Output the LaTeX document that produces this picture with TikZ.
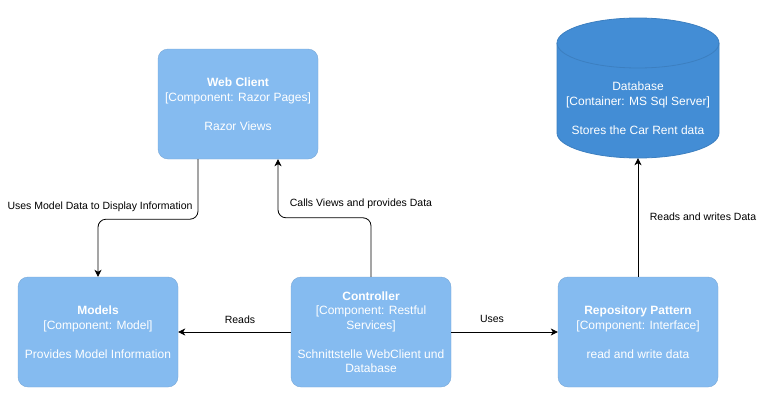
\documentclass[tikz,border=0pt]{standalone}
\usepackage{fontspec}
\setmainfont{Liberation Sans}
\usetikzlibrary{arrows.meta}
\definecolor{compfill}{HTML}{85BBF0}
\definecolor{compline}{HTML}{78A8D8}
\definecolor{dbfill}{HTML}{438DD5}
\definecolor{dbline}{HTML}{3C7FC0}

\begin{document}
\begin{tikzpicture}[x=1pt, y=-1pt,
	comp/.style={rectangle, rounded corners=10pt, fill=compfill, draw=compline, text=white, minimum width=160pt, minimum height=110pt, align=center, font=\fontsize{12}{14.5}\selectfont},
	dbtext/.style={rectangle, text=white, minimum width=162pt, minimum height=100pt, align=center, font=\fontsize{12}{14.5}\selectfont},
	link/.style={draw=black, line width=0.8pt, rounded corners=8pt, -{Stealth[length=7pt, width=7pt, inset=2pt]}},
	lbl/.style={fill=white, inner sep=1pt, font=\fontsize{10.5}{13}\selectfont}]
			\useasboundingbox (0,0) rectangle (770,402);
			
			% cylinder of the database
			\fill[dbfill, draw=dbline, line width=0.8pt] (557,43) -- (557,133) arc[start angle=180, end angle=0, x radius=81, y radius=25] -- (719,43) arc[start angle=0, end angle=-180, x radius=81, y radius=25] -- cycle;
			\draw[dbline, line width=0.8pt] (557,43) arc[start angle=180, end angle=0, x radius=81, y radius=25];
			
			\node[comp] (web) at (238,104){\textbf{Web Client}\\{}[Component: Razor Pages]\\[14.5pt]Razor Views};
			\node[comp] (models) at (98,332){\textbf{Models}\\{}[Component: Model]\\[14.5pt]Provides Model Information};
			\node[comp] (ctrl) at (371,332){\textbf{Controller}\\{}[Component: Restful\\Services]\\[14.5pt]Schnittstelle WebClient und\\Database};
			\node[comp] (repo) at (638,332){\textbf{Repository Pattern}\\{}[Component: Interface]\\[14.5pt]read and write data};
			\node[dbtext] (db) at (638,108){Database\\{}[Container: MS Sql Server]\\[14.5pt]Stores the Car Rent data};
			
			\draw[link] ([xshift=-40pt]web.south) -- ++(0,60) -| (models.north);
			\draw[link] (ctrl.north) -- ++(0,-59) -| ([xshift=40pt]web.south);
			\draw[link] (ctrl.west) -- (models.east);
			\draw[link] (ctrl.east) -- (repo.west);
			\draw[link] (repo.north) -- (db.south);
			
			\node[lbl] (lbl1) at (100,207){Uses Model Data to Display Information};
			\node[lbl] (lbl2) at (361,204){Calls Views and provides Data};
			\node[lbl] (lbl3) at (240,320){Reads};
			\node[lbl] (lbl4) at (492,319){Uses};
			\node[lbl] (lbl5) at (703,217){Reads and writes Data};
			\end{tikzpicture}
\end{document}
